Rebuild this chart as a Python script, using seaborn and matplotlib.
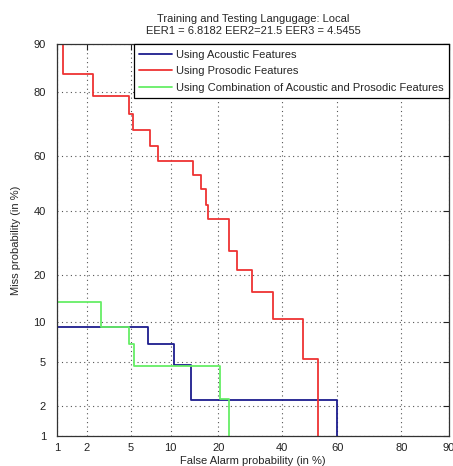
import numpy as np
import matplotlib
matplotlib.use("Agg")
import matplotlib.pyplot as plt
import seaborn as sns
import math

# DET curve corners (in %): vertical drop at each pfa, then move right
acoustic_pfa = [0.5, 6.86, 10.58, 13.66, 60.0]
acoustic_miss = [9.24, 6.95, 4.69, 2.30, 0.5]

prosodic_pfa = [1.17, 2.32, 4.80, 5.22, 7.08, 8.16, 14.19, 15.84, 16.98, 17.52,
                22.87, 25.24, 29.85, 36.86, 47.63, 53.14]
prosodic_miss = [84.3, 79.0, 73.8, 68.8, 63.4, 58.1, 52.9, 47.8, 42.2, 37.2,
                 26.6, 21.2, 15.8, 10.6, 5.3, 0.5]

combined_pfa = [0.5, 2.72, 4.81, 5.29, 20.44, 22.95]
combined_miss = [13.7, 9.24, 6.95, 4.63, 2.35, 0.5]

ticks = [1, 2, 5, 10, 20, 40, 60, 80, 90]
labels = ["Using Acoustic Features", "Using Prosodic Features",
          "Using Combination of Acoustic and Prosodic Features"]
colors = ["#1c1c8e", "#ee3333", "#66ee66"]

# probit helpers (Acklam approximation of the normal quantile)
A = [-3.969683028665376e+01, 2.209460984245205e+02, -2.759285104469687e+02,
     1.383577518672690e+02, -3.066479806614716e+01, 2.506628277459239e+00]
B = [-5.447609879822406e+01, 1.615858368580409e+02, -1.556989798598866e+02,
     6.680131188771972e+01, -1.328068155288572e+01]
C = [-7.784894002430293e-03, -3.223964580411365e-01, -2.400758277161838e+00,
     -2.549732188642114e+00, 4.374664141464968e+00, 2.938163982698783e+00]
D = [7.784695709041462e-03, 3.224671290700398e-01, 2.445134137142996e+00,
     3.754408661907416e+00]


def tail(q):
    num = ((((C[0]*q + C[1])*q + C[2])*q + C[3])*q + C[4])*q + C[5]
    den = (((D[0]*q + D[1])*q + D[2])*q + D[3])*q + 1
    return num / den


def ppf(p):
    p = np.clip(np.asarray(p, dtype=float), 1e-9, 1 - 1e-9)
    q = p - 0.5
    r = q * q
    mid = (((((A[0]*r + A[1])*r + A[2])*r + A[3])*r + A[4])*r + A[5]) * q / \
          (((((B[0]*r + B[1])*r + B[2])*r + B[3])*r + B[4])*r + 1)
    lo = tail(np.sqrt(-2 * np.log(p)))
    hi = -tail(np.sqrt(-2 * np.log(1 - p)))
    return np.where(p < 0.02425, lo, np.where(p > 1 - 0.02425, hi, mid))


_cdf = np.frompyfunc(lambda z: 0.5 * (1 + math.erf(z / math.sqrt(2))), 1, 1)


def forward(x):
    return ppf(np.asarray(x, dtype=float) / 100.0)


def inverse(z):
    return 100.0 * np.asarray(_cdf(np.asarray(z, dtype=float)), dtype=float)


def staircase(pfa, miss, top=99.0):
    xs, ys = [pfa[0]], [top]
    for i in range(len(pfa)):
        xs.append(pfa[i])
        ys.append(miss[i])
        if i + 1 < len(pfa):
            xs.append(pfa[i + 1])
            ys.append(miss[i])
    return xs, ys


sns.set_style("white")
plt.rcParams['font.family'] = ['Liberation Sans', 'DejaVu Sans']
plt.rcParams['font.size'] = 8

fig = plt.figure(figsize=(4.53, 4.66), dpi=100)
ax = fig.add_axes([57/453, 1 - 436/466, 392/453, 392/466])

curves = [(acoustic_pfa, acoustic_miss, 9.24),
          (prosodic_pfa, prosodic_miss, 99.0),
          (combined_pfa, combined_miss, 13.7)]
for (pfa, miss, top), lab, col in zip(curves, labels, colors):
    xs, ys = staircase(pfa, miss, top)
    sns.lineplot(x=xs, y=ys, sort=False, estimator=None, color=col,
                 linewidth=1.3, label=lab, ax=ax)

ax.set_xscale('function', functions=(forward, inverse))
ax.set_yscale('function', functions=(forward, inverse))
ax.set_xlim(1, 90)
ax.set_ylim(1, 90)
ax.set_xticks(ticks)
ax.set_yticks(ticks)
ax.set_xticklabels([str(t) for t in ticks])
ax.set_yticklabels([str(t) for t in ticks])
ax.minorticks_off()
ax.grid(True, linestyle=(0, (1, 3)), color='#555555', linewidth=0.8)
ax.tick_params(direction='in', length=4, top=True, right=True,
               labelsize=8, colors='#222222')
ax.tick_params(axis='y', pad=8)
ax.tick_params(axis='x', pad=5)
for s in ax.spines.values():
    s.set_color('#333333')
    s.set_linewidth(0.9)

ax.set_xlabel("False Alarm probability (in %)", fontsize=8, labelpad=2)
ax.set_ylabel("Miss probability (in %)", fontsize=8, labelpad=9)
ax.set_title("Training and Testing Langugage: Local\n"
             "EER1 = 6.8182 EER2=21.5 EER3 = 4.5455", fontsize=8, pad=7,
             linespacing=1.25)

leg = ax.legend(loc='upper right', borderaxespad=0, fancybox=False,
                fontsize=8, handlelength=3.0, handletextpad=0.3,
                labelspacing=0.6, borderpad=0.5, framealpha=1)
leg.get_frame().set_edgecolor('black')
leg.get_frame().set_linewidth(0.9)

fig.savefig("out.png", dpi=100)
